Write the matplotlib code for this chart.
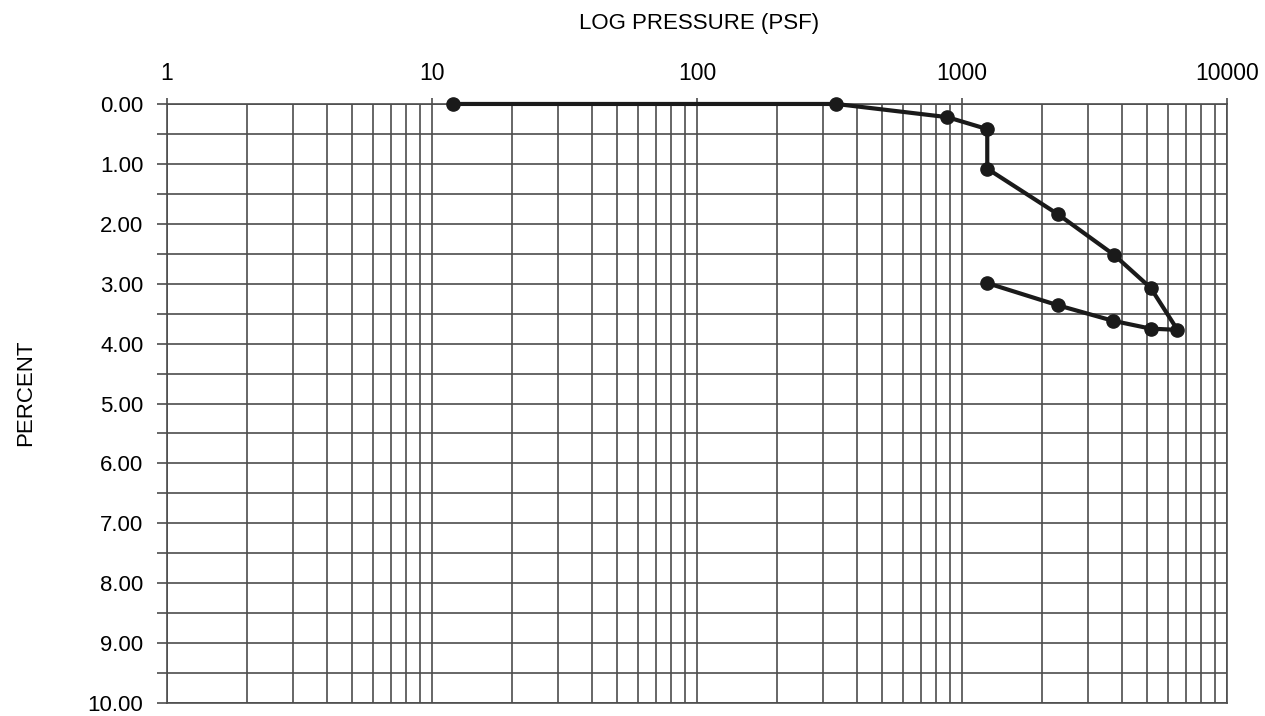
import matplotlib
matplotlib.use('Agg')
import matplotlib.pyplot as plt
from matplotlib.ticker import FixedLocator, LogLocator, NullFormatter

# consolidation curve
pressure = [12, 335, 880, 1245, 1245, 2300, 3750, 5150, 6500, 5150, 3720, 2300, 1245]
percent = [0.00, 0.00, 0.22, 0.42, 1.08, 1.84, 2.52, 3.07, 3.77, 3.75, 3.62, 3.36, 2.99]

x_ticks = [1, 10, 100, 1000, 10000]
x_labels = ['1', '10', '100', '1000', '10000']
y_ticks = [0, 1, 2, 3, 4, 5, 6, 7, 8, 9, 10]

plt.rcParams['font.family'] = ['Liberation Sans', 'DejaVu Sans']

fig = plt.figure(figsize=(12.65, 7.16), dpi=100)
ax = fig.add_axes([0.132, 0.018, 0.838, 0.8368])

grid_col = '#4d4d4d'

ax.set_xscale('log')
ax.set_xlim(1, 10000)
ax.set_ylim(10, 0)

ax.plot(pressure, percent, color='#1a1a1a', lw=3, marker='o', ms=9.5,
        mfc='#1a1a1a', mec='#1a1a1a', zorder=5, clip_on=False)

ax.xaxis.set_major_locator(FixedLocator(x_ticks))
ax.set_xticklabels(x_labels)
ax.xaxis.set_minor_locator(LogLocator(base=10, subs=range(2, 10), numticks=20))
ax.xaxis.set_minor_formatter(NullFormatter())
ax.xaxis.tick_top()
ax.tick_params(axis='x', which='major', length=4.5, width=1.2, color=grid_col,
               labelsize=16.5, pad=9)
ax.tick_params(axis='x', which='minor', length=0)

ax.set_yticks(y_ticks)
ax.set_yticklabels(['%.2f' % v for v in y_ticks])
ax.set_yticks([v + 0.5 for v in y_ticks[:-1]], minor=True)
ax.tick_params(axis='y', which='both', length=7, width=1.2, color=grid_col,
               labelsize=16, pad=10)

ax.grid(True, which='both', color=grid_col, lw=1.2)
ax.set_axisbelow(True)
for s in ax.spines.values():
    s.set_color(grid_col)
    s.set_linewidth(1.2)

fig.text(0.553, 0.967, 'LOG PRESSURE (PSF)', ha='center', va='center', fontsize=16)
fig.text(0.02, 0.451, 'PERCENT', ha='center', va='center', rotation=90, fontsize=16)

plt.savefig('out.png', dpi=100)
